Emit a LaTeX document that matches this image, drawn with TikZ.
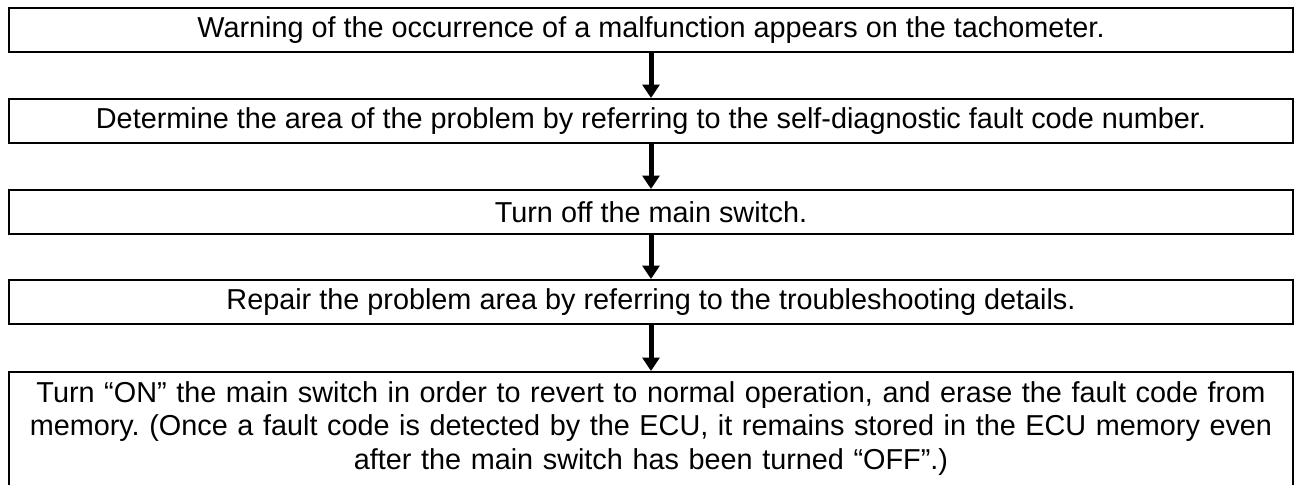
\documentclass[tikz,border=0pt]{standalone}
\usepackage{fontspec}
\setmainfont{Liberation Sans}
\usetikzlibrary{arrows.meta}
\frenchspacing
\begin{document}
\begin{tikzpicture}[
    box/.style={draw, line width=0.04cm, minimum width=25.68cm, minimum height=0.88cm, inner sep=0pt, align=center, font=\fontsize{16.4}{19}\selectfont},
    lastbox/.style={box, anchor=north, text width=25.3cm, inner ysep=0.19cm, text depth=1.72cm},
    flow/.style={-{Triangle[width=0.34cm, length=0.27cm]}, line width=0.1cm},
]
\useasboundingbox (0,0) rectangle (25.88,-9.7);

\node[box] (warn) at (13.02,-0.6) {Warning of the occurrence of a malfunction appears on the tachometer.};
\node[box] (area) at (13.02,-2.42) {Determine the area of the problem by referring to the self-diagnostic fault code number.};
\node[box] (off) at (13.02,-4.24) {Turn off the main switch.};
\node[box] (repair) at (13.02,-6.04) {Repair the problem area by referring to the troubleshooting details.};
\node[lastbox] (erase) at (13.02,-7.42) {Turn “ON” the main switch in order to revert to normal operation, and erase the fault code from\\ memory. (Once a fault code is detected by the ECU, it remains stored in the ECU memory even\\ after the main switch has been turned “OFF”.)};

\draw[flow] (warn) -- (area);
\draw[flow] (area) -- (off);
\draw[flow] (off) -- (repair);
\draw[flow] (repair) -- (erase);
\end{tikzpicture}
\end{document}
